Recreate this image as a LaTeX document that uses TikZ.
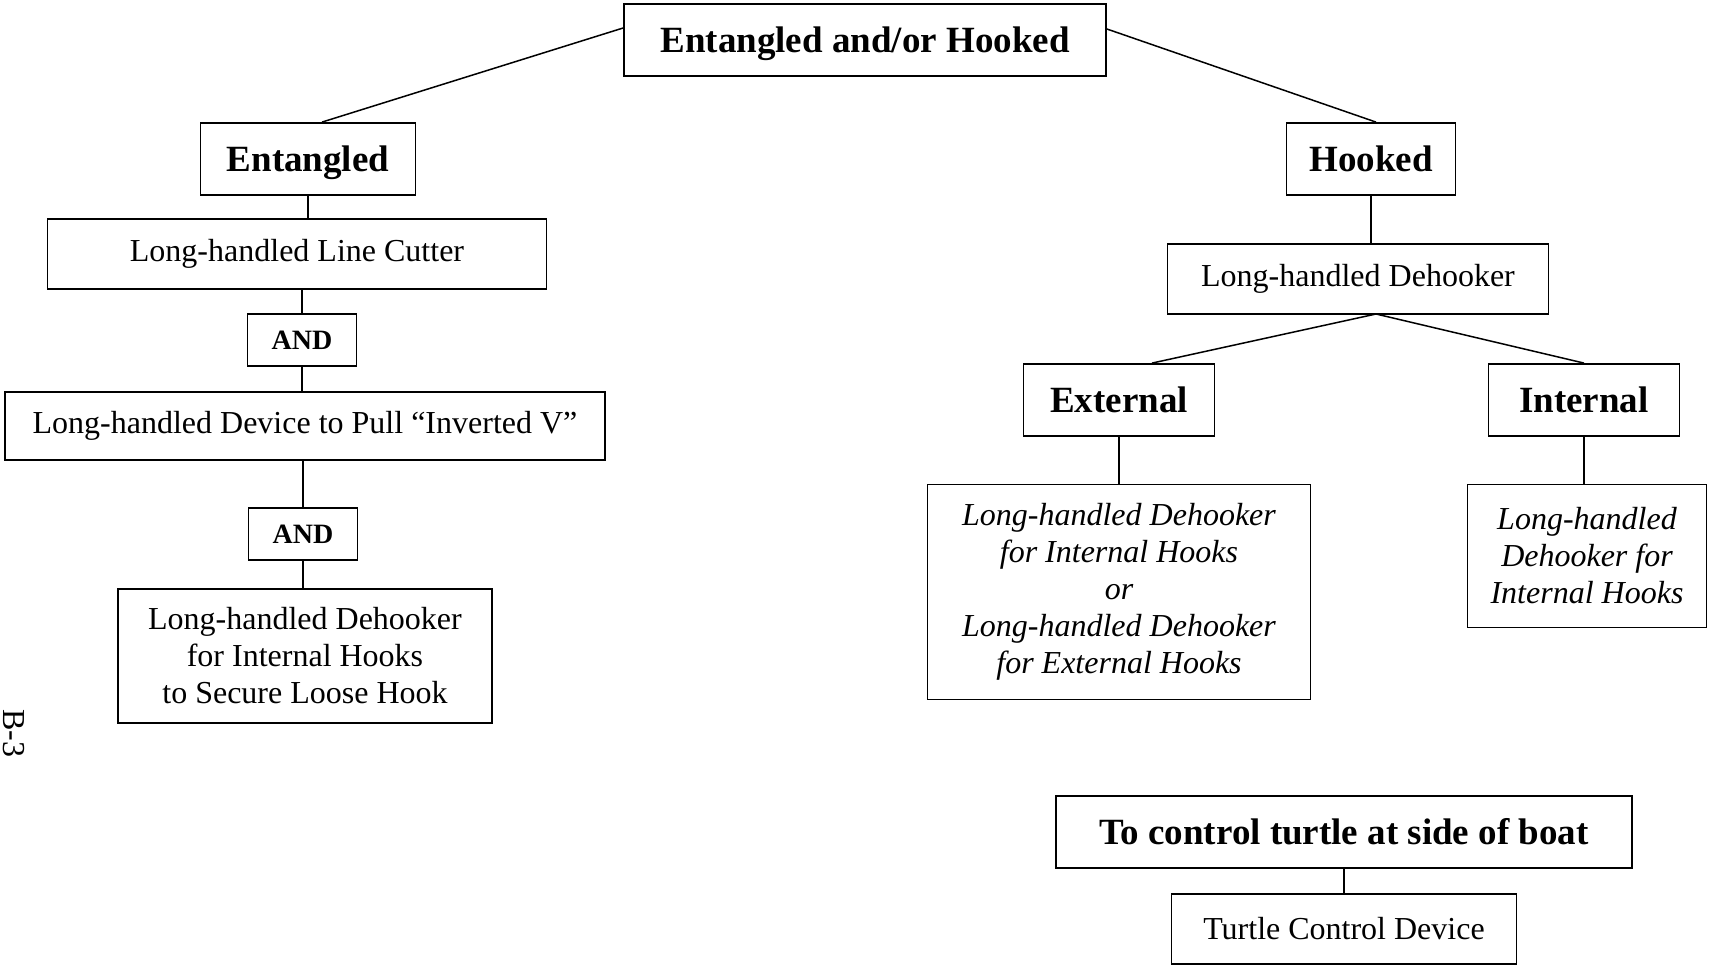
\documentclass[tikz,border=0pt]{standalone}
\usepackage{fontspec}
\setmainfont{Liberation Serif}
\tikzset{
headbox/.style = {rectangle, draw, line width=1.8pt, font=\fontsize{37}{43}\selectfont\bfseries, minimum height=72pt, text height=25pt, text depth=0pt, inner sep=0pt, align=center},
itembox/.style = {rectangle, draw, line width=1.8pt, font=\fontsize{32}{37}\selectfont, minimum height=70pt, inner sep=0pt, align=center},
andbox/.style = {rectangle, draw, line width=1.8pt, font=\fontsize{28}{32}\selectfont\bfseries, minimum width=109pt, minimum height=52pt, inner sep=0pt},
line/.style = {draw, line width=1.5pt},
fork/.style={coordinate}
}

\begin{document}
\begin{tikzpicture}[x=1pt, y=-1pt]
    \useasboundingbox (0,0) rectangle (1710,968);
    \node [headbox, minimum width=482pt] (top) at (865,40) {Entangled and/or Hooked};
    \node [headbox, minimum width=215pt] (entangled) at (308,159) {Entangled};
    \node [headbox, minimum width=169pt] (hooked) at (1371,159) {Hooked};

    % entangled branch
    \node [itembox, minimum width=499pt, below of=entangled, node distance=95pt, xshift=-11pt] (cutter) {Long-handled Line Cutter};
    \node [andbox, below of=cutter, node distance=86pt, xshift=5pt] (and1) {AND};
    \node [itembox, minimum width=600pt, minimum height=68pt, below of=and1, node distance=86pt, xshift=3pt] (device) {Long-handled Device to Pull ``Inverted V''};
    \node [andbox, below of=device, node distance=108pt, xshift=-2pt] (and2) {AND};
    \node [itembox, minimum width=374pt, minimum height=134pt, below of=and2, node distance=122pt, xshift=2pt] (securehook) {Long-handled Dehooker\\for Internal Hooks\\to Secure Loose Hook};

    % hooked branch
    \node [itembox, minimum width=381pt, below of=hooked, node distance=120pt, xshift=-13pt] (dehooker) {Long-handled Dehooker};
    \node [fork, below of=dehooker, node distance=35pt, xshift=18pt] (split) {};
    \node [headbox, minimum width=191pt] (external) at (1119,400) {External};
    \node [headbox, minimum width=191pt] (internal) at (1584,400) {Internal};
    \node [itembox, font=\fontsize{32}{37}\selectfont\itshape, minimum width=383pt, minimum height=215pt, below of=external, node distance=192pt] (extchoice) {Long-handled Dehooker\\for Internal Hooks\\or\\Long-handled Dehooker\\for External Hooks};
    \node [itembox, font=\fontsize{32}{37}\selectfont\itshape, minimum width=239pt, minimum height=143pt, below of=internal, node distance=156pt, xshift=3pt] (intchoice) {Long-handled\\Dehooker for\\Internal Hooks};

    % turtle control
    \node [headbox, minimum width=576pt] (control) at (1344,832) {To control turtle at side of boat};
    \node [itembox, minimum width=345pt, below of=control, node distance=97pt] (turtledev) {Turtle Control Device};

    \node [rotate=-90, font=\fontsize{32}{37}\selectfont, inner sep=1pt] (pagenum) at (14,733) {B-3};

    \path [line] ([yshift=12pt]top.west) -- ([xshift=14pt]entangled.north);
    \path [line] ([yshift=11pt]top.east) -- ([xshift=5pt]hooked.north);
    \path [line] (entangled.south) -- (entangled.south |- cutter.north);
    \path [line] (and1.north |- cutter.south) -- (and1.north);
    \path [line] (and1.south) -- (and1.south |- device.north);
    \path [line] (and2.north |- device.south) -- (and2.north);
    \path [line] (and2.south) -- (and2.south |- securehook.north);
    \path [line] (hooked.south) -- (hooked.south |- dehooker.north);
    \path [line] (split) -- ([xshift=33pt]external.north);
    \path [line] (split) -- (internal.north);
    \path [line] (external.south) -- (external.south |- extchoice.north);
    \path [line] (internal.south) -- (internal.south |- intchoice.north);
    \path [line] (control.south) -- (turtledev.north);
\end{tikzpicture}
\end{document}
